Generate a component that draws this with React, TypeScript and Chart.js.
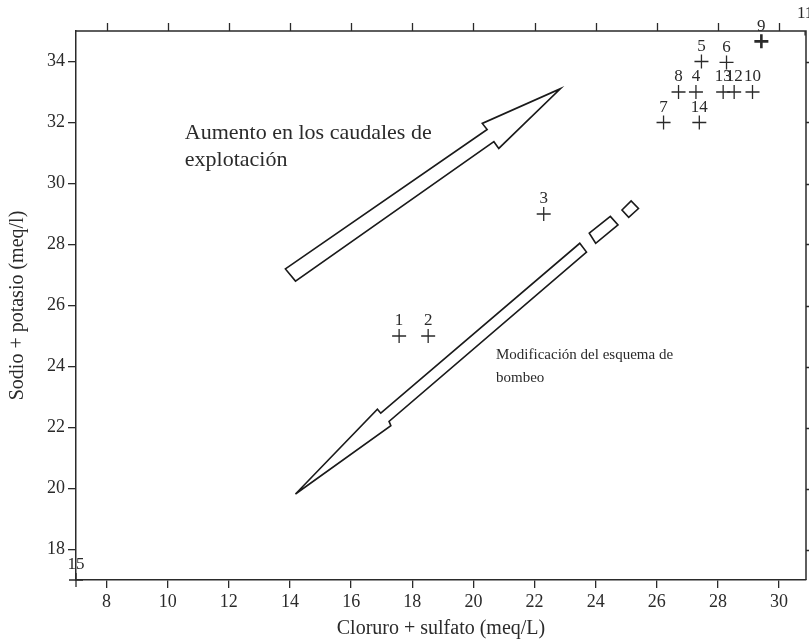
import React, { useEffect, useRef } from "react";
import { Chart, registerables } from "chart.js";

Chart.register(...registerables);

// ---- data ----
const POINT_LABELS = ["1", "2", "3", "4", "5", "6", "7", "8", "9", "10", "11", "12", "13", "14", "15"];
const X_VALUES = [17.57, 18.52, 22.3, 27.28, 27.46, 28.28, 26.22, 26.71, 29.42, 29.13, 30.85, 28.53, 28.17, 27.39, 7.0];
const Y_VALUES = [25, 25, 29, 33, 34, 33.97, 32, 33, 34.66, 33, 35.08, 33, 33, 32, 17.0];
const BOLD_POINTS = ["9"];

const X_TICKS = [8, 10, 12, 14, 16, 18, 20, 22, 24, 26, 28, 30];
const Y_TICKS = [18, 20, 22, 24, 26, 28, 30, 32, 34];
const X_MIN = 7;
const X_MAX = 30.88;
const Y_MIN = 17;
const Y_MAX = 35;

const X_TITLE = "Cloruro + sulfato (meq/L)";
const Y_TITLE = "Sodio + potasio (meq/l)";

// annotation arrows (data coordinates)
const ARROW_UP: number[][] = [
  [13.85, 27.2], [20.45, 31.77], [20.29, 31.97], [22.85, 33.11],
  [20.83, 31.15], [20.67, 31.37], [14.18, 26.8],
];
const ARROW_DOWN: number[][] = [
  [14.18, 19.82], [16.86, 22.6], [16.97, 22.47], [23.48, 28.04],
  [23.7, 27.75], [17.24, 22.2], [17.3, 22.06],
];
const DASH_1: number[][] = [[23.79, 28.37], [24.48, 28.92], [24.73, 28.64], [24.0, 28.04]];
const DASH_2: number[][] = [[24.86, 29.13], [25.16, 29.43], [25.4, 29.18], [25.08, 28.89]];

const NOTE_UP = ["Aumento en los caudales de", "explotación"];
const NOTE_UP_POS = [10.56, 31.65, 30.77];
const NOTE_DOWN = ["Modificación del esquema de", "bombeo"];
const NOTE_DOWN_POS = [20.74, 24.38, 23.63];

const FONT = "'Liberation Serif', 'Times New Roman', serif";
const INK = "#2a2a2a";

const decorPlugin = {
  id: "decor",
  afterDatasetsDraw(chart: any) {
    const { ctx, chartArea, scales } = chart;
    const xs = scales.x;
    const ys = scales.y;
    const px = (v: number) => xs.getPixelForValue(v);
    const py = (v: number) => ys.getPixelForValue(v);
    ctx.save();

    // frame top + right and mirrored ticks
    ctx.strokeStyle = INK;
    ctx.lineWidth = 1.5;
    ctx.beginPath();
    ctx.moveTo(chartArea.left, chartArea.top);
    ctx.lineTo(chartArea.right, chartArea.top);
    ctx.lineTo(chartArea.right, chartArea.bottom);
    ctx.stroke();
    ctx.lineWidth = 1.3;
    ctx.beginPath();
    X_TICKS.forEach((t) => {
      const x = Math.round(px(t)) + 0.5;
      ctx.moveTo(x, chartArea.top);
      ctx.lineTo(x, chartArea.top - 8);
    });
    Y_TICKS.forEach((t) => {
      const y = Math.round(py(t)) + 0.5;
      ctx.moveTo(chartArea.right, y);
      ctx.lineTo(chartArea.right + 8, y);
    });
    ctx.stroke();

    // arrows
    const poly = (pts: number[][]) => {
      ctx.beginPath();
      pts.forEach((p, i) => {
        const X = px(p[0]);
        const Y = py(p[1]);
        if (i === 0) ctx.moveTo(X, Y);
        else ctx.lineTo(X, Y);
      });
      ctx.closePath();
      ctx.stroke();
    };
    ctx.lineWidth = 1.6;
    ctx.lineJoin = "miter";
    ctx.strokeStyle = "#1a1a1a";
    poly(ARROW_UP);
    poly(ARROW_DOWN);
    poly(DASH_1);
    poly(DASH_2);

    // notes
    ctx.fillStyle = INK;
    ctx.textAlign = "left";
    ctx.textBaseline = "middle";
    ctx.font = `22px ${FONT}`;
    NOTE_UP.forEach((t, i) => ctx.fillText(t, px(NOTE_UP_POS[0]), py(NOTE_UP_POS[i + 1])));
    ctx.font = `15px ${FONT}`;
    NOTE_DOWN.forEach((t, i) => ctx.fillText(t, px(NOTE_DOWN_POS[0]), py(NOTE_DOWN_POS[i + 1])));

    // point labels
    const meta = chart.getDatasetMeta(0);
    ctx.font = `17px ${FONT}`;
    ctx.textAlign = "center";
    meta.data.forEach((el: any, i: number) => {
      ctx.fillText(POINT_LABELS[i], el.x, el.y - 15);
    });
    ctx.restore();
  },
};

export default function App() {
  const ref = useRef<HTMLCanvasElement | null>(null);

  useEffect(() => {
    if (!ref.current) return;
    const data = X_VALUES.map((x, i) => ({ x, y: Y_VALUES[i] }));
    const chart = new Chart(ref.current, {
      type: "scatter",
      data: {
        datasets: [
          {
            data,
            pointStyle: "cross",
            pointRadius: 7,
            pointHoverRadius: 7,
            borderColor: INK,
            backgroundColor: INK,
            pointBorderWidth: POINT_LABELS.map((l) => (BOLD_POINTS.includes(l) ? 2.6 : 1.3)),
            clip: { left: 10, top: 0, right: 0, bottom: 10 } as any,
          },
        ],
      },
      options: {
        animation: false,
        responsive: false,
        devicePixelRatio: 1,
        layout: { autoPadding: false, padding: { top: 31, right: 3, left: 0, bottom: 0 } },
        plugins: { legend: { display: false }, tooltip: { enabled: false } },
        scales: {
          x: {
            type: "linear",
            min: X_MIN,
            max: X_MAX,
            afterBuildTicks: (s: any) => {
              s.ticks = X_TICKS.map((v) => ({ value: v }));
            },
            afterFit: (s: any) => {
              s.height = 64;
              s.paddingLeft = 0;
              s.paddingRight = 0;
            },
            grid: { drawOnChartArea: false, drawTicks: true, tickLength: 8, color: INK, lineWidth: 1.3 },
            border: { display: true, color: INK, width: 1.5 },
            ticks: { color: INK, font: { family: FONT, size: 18 }, padding: 3, maxRotation: 0 },
            title: { display: true, text: X_TITLE, color: INK, font: { family: FONT, size: 20 }, padding: { top: 0, bottom: 3 } },
          },
          y: {
            type: "linear",
            min: Y_MIN,
            max: Y_MAX,
            afterBuildTicks: (s: any) => {
              s.ticks = Y_TICKS.map((v) => ({ value: v }));
            },
            afterFit: (s: any) => {
              s.width = 76;
              s.paddingTop = 0;
              s.paddingBottom = 0;
            },
            grid: { drawOnChartArea: false, drawTicks: true, tickLength: 8, color: INK, lineWidth: 1.3 },
            border: { display: true, color: INK, width: 1.5 },
            ticks: { color: INK, font: { family: FONT, size: 18 }, padding: 3 },
            title: { display: true, text: Y_TITLE, color: INK, font: { family: FONT, size: 20 }, padding: { top: 6, bottom: 0 } },
          },
        },
      },
      plugins: [decorPlugin],
    });
    return () => chart.destroy();
  }, []);

  return (
    <div style={{ position: "fixed", left: 0, top: 0, width: 809, height: 644, background: "#fff" }}>
      <canvas ref={ref} width={809} height={644} style={{ display: "block" }} />
    </div>
  );
}
